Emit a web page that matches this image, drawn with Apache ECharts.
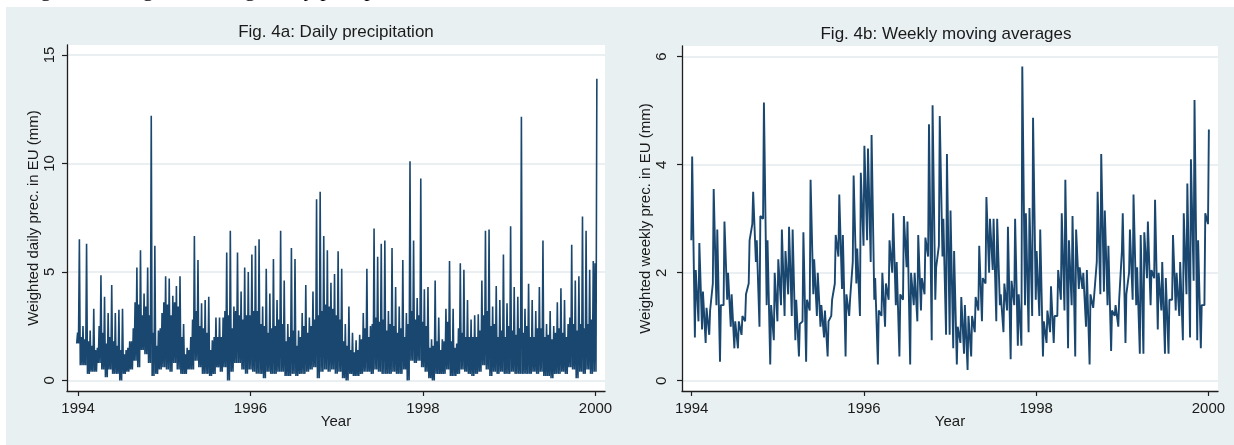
<!DOCTYPE html>
<html>
<head>
<meta charset="utf-8">
<script src="https://cdn.jsdelivr.net/npm/echarts@6/dist/echarts.min.js"></script>
<style>
  html, body { margin: 0; padding: 0; background: #ffffff; }
  #chart { width: 1234px; height: 445px; }
</style>
</head>
<body>
<div id="chart"></div>
<script>
// Half-month bins from Jan 1994 to Jan 2000 (145 bins)
const START_YEAR = 1994;
const BINS_PER_YEAR = 24;
const yearTicks = [1994, 1996, 1998, 2000];
const dailyTicks = [0, 5, 10, 15];
const weeklyTicks = [0, 2, 4, 6];

// Fig. 4a: daily precipitation (mm) — spike top, top of dense band, bottom
const dailyHigh = [
  6.5, 2.5, 6.3, 2.3, 3.3, 1.5, 4.85, 3.85, 3.1, 4.4, 3.1, 3.25, 3.3, 1.4, 1.8, 2.4,
  5.2, 6.0, 4.0, 5.2, 12.2, 6.2, 2.3, 3.1, 4.8, 4.7, 3.9, 4.35, 4.8, 2.6, 1.5, 2.0,
  6.65, 5.55, 3.55, 3.7, 3.85, 1.85, 2.9, 2.9, 2.9, 5.9, 6.9, 3.4, 5.9, 4.1, 5.2,
  5.0, 5.8, 6.2, 6.5, 3.4, 5.15, 4.0, 5.6, 3.7, 6.9, 4.6, 2.6, 6.1, 5.6, 2.3, 3.1,
  4.4, 2.9, 4.1, 8.35, 8.7, 6.65, 6.0, 4.5, 4.9, 5.95, 5.15, 2.6, 3.4, 2.2, 1.85, 2.1,
  3.1, 5.15, 2.5, 7.0, 5.7, 6.3, 6.45, 3.2, 6.1, 4.3, 3.4, 5.55, 3.1, 10.1, 6.45, 3.8,
  9.3, 4.2,
  4.3, 1.9, 4.6, 2.9, 1.9, 3.3, 5.5, 3.3, 1.7, 5.4, 5.1, 3.7, 2.8, 3.0, 3.05, 4.6,
  6.9, 6.95, 3.4, 4.35, 3.7, 5.8, 3.55, 7.1, 4.3, 3.85, 12.15, 3.3, 4.45, 3.7, 3.2, 4.3,
  6.45, 2.6, 3.2, 2.5, 3.6, 4.25, 3.7, 2.6, 6.25, 4.6, 4.8, 7.55, 6.9, 5.1, 5.5, 13.9
];
const dailyBody = [
  2.2, 2.0, 1.9, 1.8, 1.6, 1.4, 2.5, 2.2, 1.7, 2.0, 1.8, 1.6, 1.4, 1.2, 1.5, 1.8,
  3.6, 3.5, 3.0, 3.4, 3.0, 2.2, 1.6, 2.4, 3.6, 3.5, 3.0, 3.6, 3.4, 2.0, 1.2, 1.4,
  2.8, 3.2, 2.5, 2.4, 2.2, 1.4, 2.0, 2.0, 2.0, 3.2, 3.0, 2.4, 3.2, 3.0, 2.8,
  3.0, 3.0, 3.2, 3.2, 2.6, 2.5, 2.2, 2.4, 2.5, 2.8, 2.6, 1.8, 2.0, 2.3, 1.6, 2.0,
  2.5, 2.2, 2.5, 2.8, 3.0, 3.2, 3.5, 3.4, 3.3, 3.0, 2.8, 1.8, 1.6, 1.4, 1.3, 1.4,
  1.9, 2.4, 2.0, 2.6, 2.9, 2.7, 2.8, 2.3, 2.6, 2.5, 2.2, 2.4, 2.0, 2.6, 3.2, 2.8,
  3.0, 2.7,
  2.5, 1.5, 1.6, 1.8, 1.4, 1.8, 2.7, 1.8, 1.5, 2.4, 2.2, 2.0, 2.0, 2.0, 2.0, 2.3,
  3.0, 3.2, 2.5, 2.6, 2.0, 2.3, 2.0, 2.5, 2.3, 2.1, 2.4, 2.2, 2.5, 2.0, 2.0, 2.4,
  2.4, 2.0, 2.1, 1.9, 2.2, 2.4, 2.2, 2.0, 2.9, 2.6, 2.3, 2.6, 2.4, 2.6, 2.8, 5.4
];
const dailyLow = [
  1.7, 0.7, 0.7, 0.3, 0.4, 0.4, 0.8, 0.5, 0.15, 0.5, 0.3, 0.3, 0.0, 0.3, 0.4, 0.5,
  0.9, 0.6, 1.4, 1.2, 0.8, 0.2, 0.3, 0.5, 0.6, 0.5, 0.4, 0.8, 0.5, 0.3, 0.3, 0.5,
  0.5, 0.9, 0.6, 0.3, 0.3, 0.2, 0.3, 0.6, 0.4, 0.6, 0.0, 0.4, 0.8, 0.8, 0.5,
  0.3, 0.5, 0.4, 0.3, 0.3, 0.1, 0.4, 0.3, 0.3, 0.4, 0.4, 0.2, 0.2, 0.3, 0.2, 0.3,
  0.3, 0.4, 0.5, 0.6, 0.1, 0.4, 0.5, 0.4, 0.5, 0.3, 0.4, 0.1, 0.0, 0.3, 0.2, 0.2,
  0.3, 0.4, 0.4, 0.3, 0.5, 0.4, 0.3, 0.3, 0.3, 0.4, 0.3, 0.3, 0.5, 0.0, 0.9, 0.8,
  0.9, 0.6,
  0.4, 0.1, 0.0, 0.3, 0.3, 0.3, 0.5, 0.2, 0.2, 0.3, 0.5, 0.4, 0.3, 0.2, 0.3, 0.4,
  0.7, 0.5, 0.2, 0.4, 0.3, 0.4, 0.3, 0.3, 0.4, 0.3, 0.3, 0.3, 0.3, 0.3, 0.4, 0.3,
  0.4, 0.2, 0.2, 0.1, 0.3, 0.3, 0.4, 0.3, 0.6, 0.5, 0.1, 0.4, 0.3, 0.5, 0.3, 0.4
];

// Fig. 4b: weekly moving averages (mm) — top and bottom in each bin
const weeklyHigh = [
  4.15, 2.05, 2.55, 1.65, 1.35, 1.3, 3.55, 2.8, 1.4, 2.95, 2.0, 1.6, 1.1, 1.1, 1.2, 1.6,
  2.6, 3.5, 2.6, 3.05, 5.15, 2.6, 1.4, 2.0, 2.25, 2.8, 2.4, 2.85, 2.8, 1.5, 1.05, 2.75,
  1.5, 3.72, 2.25, 2.0, 1.4, 1.3, 1.1, 1.5, 2.7, 3.45, 2.7, 1.6, 1.5, 3.8, 2.45, 3.85,
  4.35, 4.3, 4.55, 1.9, 1.3, 2.0, 1.8, 2.6, 3.1, 2.2, 1.6, 3.05, 2.95, 2.0, 2.0, 2.7,
  1.9, 2.65, 4.75, 5.1, 2.1, 4.9, 3.0, 4.2,
  3.15, 2.4, 1.0, 1.55, 1.4, 1.2, 1.2, 1.55, 2.5, 1.9, 3.4, 3.0, 3.0, 3.0, 1.6, 1.8,
  2.85, 1.85, 3.0, 1.6, 5.82, 3.1, 3.2, 4.87, 2.4, 2.8, 1.1, 1.3, 1.75, 1.2, 2.05, 3.1,
  3.72, 2.6, 3.05, 2.8, 2.1, 2.0, 2.05, 1.6, 1.55, 3.5, 4.2, 3.15, 2.5, 1.3, 1.4, 1.5,
  3.1, 1.6, 2.8, 3.45, 2.1, 2.7, 2.75, 2.95, 2.05, 3.35, 2.0, 2.2, 1.9, 1.5, 2.7, 2.0,
  2.2, 3.1, 3.65, 4.1, 5.2, 2.6, 1.4, 3.1, 4.65
];
const weeklyLow = [
  2.6, 0.8, 1.1, 0.95, 0.7, 0.85, 1.8, 1.4, 0.35, 1.4, 1.5, 1.0, 0.6, 0.6, 0.85, 1.1,
  1.8, 2.9, 2.2, 1.0, 3.0, 1.4, 0.3, 0.75, 1.1, 1.4, 1.2, 1.6, 1.2, 0.75, 0.45, 1.1,
  0.35, 1.3, 1.6, 1.2, 1.0, 0.8, 0.45, 1.2, 1.8, 2.3, 1.7, 0.45, 1.2, 2.2, 1.8, 1.2,
  2.5, 2.6, 2.2, 1.5, 0.3, 1.2, 1.0, 1.5, 2.0, 1.4, 0.45, 1.5, 2.1, 0.3, 1.4, 1.1,
  1.3, 1.6, 2.3, 0.75, 1.5, 2.5, 2.3, 0.85,
  0.85, 0.6, 0.3, 0.7, 0.5, 0.2, 0.45, 0.9, 1.3, 1.1, 1.8, 2.0, 2.05, 1.1, 1.4, 0.9,
  1.3, 0.4, 1.4, 0.65, 0.65, 1.4, 0.9, 1.2, 1.5, 1.2, 0.45, 0.7, 0.9, 0.7, 1.2, 1.5,
  1.3, 0.6, 1.4, 0.45, 1.7, 1.7, 1.0, 0.3, 1.35, 2.2, 1.6, 1.65, 1.4, 0.55, 1.2, 1.0,
  2.4, 0.7, 2.0, 1.5, 1.4, 0.5, 0.5, 1.9, 1.4, 1.9, 0.95, 1.3, 0.5, 0.5, 1.5, 1.3,
  1.2, 0.75, 1.6, 0.8, 1.85, 0.75, 0.6, 1.4, 2.9
];

const FONT = '"Liberation Sans", Arial, sans-serif';
const NAVY = '#1a476f';
const AXIS = '#1e1e1e';
const GRID = '#e3ebee';
const PANEL_BG = '#e9f0f2';

const binYear = (i) => START_YEAR + i / BINS_PER_YEAR;
const step = 1 / BINS_PER_YEAR;

// daily: low -> band top -> low -> spike, within each bin
const dailyPoints = [];
dailyHigh.forEach((hi, i) => {
  const t = binYear(i);
  dailyPoints.push([t - 0.375 * step, dailyLow[i]]);
  dailyPoints.push([t - 0.125 * step, dailyBody[i]]);
  dailyPoints.push([t + 0.125 * step, dailyLow[i]]);
  dailyPoints.push([t + 0.375 * step, hi]);
});

// weekly: near-vertical stroke from bottom to top of each bin
const weeklyPoints = [];
weeklyHigh.forEach((hi, i) => {
  const t = binYear(i);
  weeklyPoints.push([t - 0.12 * step, weeklyLow[i]]);
  weeklyPoints.push([t + 0.12 * step, hi]);
});

function xAxisFor(gridIndex, min, max) {
  return {
    gridIndex,
    type: 'value',
    min,
    max,
    axisLine: { show: true, onZero: false, lineStyle: { color: AXIS, width: 1.3 } },
    axisTick: { show: true, customValues: yearTicks, length: 5, lineStyle: { color: AXIS, width: 1.2 } },
    axisLabel: { customValues: yearTicks, margin: 10, fontSize: 15, fontFamily: FONT, color: '#1a1a1a', formatter: (v) => String(v) },
    splitLine: { show: false },
    name: 'Year',
    nameLocation: 'middle',
    nameGap: 23,
    nameMoveOverlap: false,
    nameTextStyle: { fontSize: 15, fontFamily: FONT, color: '#1a1a1a' },
  };
}

function yAxisFor(gridIndex, min, max, ticks, title, labelMargin, nameGap) {
  return {
    gridIndex,
    type: 'value',
    min,
    max,
    axisLine: { show: true, onZero: false, lineStyle: { color: AXIS, width: 1.3 } },
    axisTick: { show: true, customValues: ticks, length: 5, lineStyle: { color: AXIS, width: 1.2 } },
    axisLabel: { customValues: ticks, rotate: 90, margin: labelMargin, fontSize: 15, fontFamily: FONT, color: '#1a1a1a' },
    splitLine: { show: true, lineStyle: { color: GRID, width: 1.5 } },
    name: title,
    nameLocation: 'middle',
    nameGap,
    nameTextStyle: { fontSize: 15, fontFamily: FONT, color: '#1a1a1a' },
  };
}

const chart = echarts.init(document.getElementById('chart'), null, { renderer: 'canvas' });

chart.setOption({
  animation: false,
  graphic: [
    // cropped caption line of the page above the figure
    {
      type: 'text', x: 22, y: 1, z: -20,
      style: { text: 'Figure 4: Weighted average daily precipitation in the EU', font: '22px "Liberation Serif", serif', fill: '#000', verticalAlign: 'bottom' },
    },
    { type: 'rect', z: -10, shape: { x: 6, y: 7, width: 1228, height: 438 }, style: { fill: PANEL_BG } },
    { type: 'rect', z: -9, shape: { x: 67, y: 45, width: 538, height: 346 }, style: { fill: '#ffffff' } },
    { type: 'rect', z: -9, shape: { x: 682, y: 46, width: 536, height: 345 }, style: { fill: '#ffffff' } },
    {
      type: 'text', x: 336, y: 32,
      style: { text: 'Fig. 4a: Daily precipitation', font: '17px ' + FONT, fill: '#1a1a1a', align: 'center', verticalAlign: 'middle' },
    },
    {
      type: 'text', x: 946, y: 34,
      style: { text: 'Fig. 4b: Weekly moving averages', font: '17px ' + FONT, fill: '#1a1a1a', align: 'center', verticalAlign: 'middle' },
    },
  ],
  grid: [
    { left: 67, top: 45, width: 538, height: 346, containLabel: false },
    { left: 682, top: 46, width: 536, height: 345, containLabel: false },
  ],
  xAxis: [
    xAxisFor(0, 1993.872, 2000.11),
    xAxisFor(1, 1993.887, 2000.111),
  ],
  yAxis: [
    yAxisFor(0, -0.49, 15.46, dailyTicks, 'Weighted daily prec. in EU (mm)', 10, 26),
    yAxisFor(1, -0.19, 6.198, weeklyTicks, 'Weighted weekly prec. in EU (mm)', 13, 28),
  ],
  series: [
    {
      name: 'Daily precipitation',
      type: 'line',
      xAxisIndex: 0,
      yAxisIndex: 0,
      data: dailyPoints,
      showSymbol: false,
      symbol: 'none',
      lineStyle: { color: NAVY, width: 1.6 },
      z: 3,
    },
    {
      name: 'Weekly moving average',
      type: 'line',
      xAxisIndex: 1,
      yAxisIndex: 1,
      data: weeklyPoints,
      showSymbol: false,
      symbol: 'none',
      lineStyle: { color: NAVY, width: 1.9 },
      z: 3,
    },
  ],
});
</script>
</body>
</html>
